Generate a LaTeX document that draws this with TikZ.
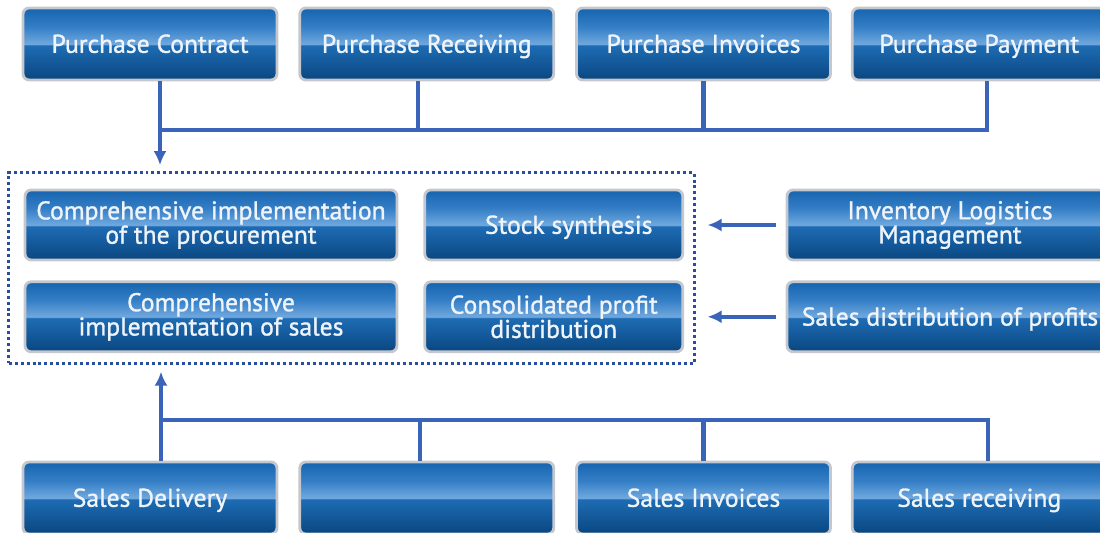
\documentclass[tikz,border=0pt]{standalone}
\usepackage{fontspec}
\setmainfont{PT Sans}
\newfontfamily\barfont[FakeBold=1.2]{PT Sans}
\newcommand\barsize{\barfont\fontsize{14.6}{13.8}\selectfont\lineskiplimit=-20pt\relax}
\usepackage{tikz}
\usetikzlibrary{arrows.meta, fit, positioning, calc}
\definecolor{btop}{RGB}{22,100,174}
\definecolor{bmid}{RGB}{52,126,198}
\definecolor{bhigh}{RGB}{112,168,222}
\definecolor{blow}{RGB}{30,108,180}
\definecolor{bbot}{RGB}{10,70,128}
\definecolor{rim}{RGB}{196,200,206}
\definecolor{linecol}{RGB}{58,100,186}
\definecolor{dotcol}{RGB}{40,78,160}
\definecolor{txtcol}{RGB}{238,244,250}
\pgfdeclareverticalshading{barshade}{100bp}{color(0bp)=(bbot); color(25bp)=(bbot); color(49bp)=(blow); color(50bp)=(bhigh); color(62bp)=(bmid); color(75bp)=(btop); color(100bp)=(btop)}
\tikzstyle{bar} = [rectangle, rounded corners=0.12cm, draw=rim, line width=1.6pt, shading=barshade, text=txtcol, align=center, inner sep=0pt, font=\barsize]
\tikzstyle{oneline} = [text height=10pt, text depth=0pt]
\tikzstyle{wide} = [bar, oneline, minimum width=5.08cm, minimum height=1.44cm]
\tikzstyle{dotbox} = [draw=dotcol, line width=1.7pt, dash pattern=on 1.7pt off 1.7pt, inner sep=0pt]
\tikzstyle{wire} = [draw=linecol, line width=2.3pt]
\tikzstyle{flow} = [wire, -{Latex[length=8pt, width=7.5pt]}]

\begin{document}
\begin{tikzpicture}[x=0.02cm, y=-0.02cm]
  \useasboundingbox (0,0) rectangle (1100,533);

  % purchase row
  \node[wide] at (150,44) (pc) {Purchase Contract};
  \node[wide, right=0.40cm of pc] (pr) {Purchase Receiving};
  \node[wide, right=0.40cm of pr] (pi) {Purchase Invoices};
  \node[wide, right=0.38cm of pi] (pp) {Purchase Payment};

  % middle block
  \node[bar, minimum width=7.44cm, minimum height=1.40cm] at (211,225) (cp) {Comprehensive implementation\\of the procurement};
  \node[bar, oneline, minimum width=5.16cm, minimum height=1.40cm, right=0.50cm of cp] (ss) {\hspace*{0.6cm}Stock synthesis};
  \node[bar, minimum width=7.44cm, minimum height=1.40cm, below=0.38cm of cp] (cs) {Comprehensive\\implementation of sales};
  \node[bar, minimum width=5.16cm, minimum height=1.40cm, below=0.38cm of ss] (cd) {Consolidated profit\\distribution};
  \coordinate (bnw) at ($(cp.north west)+(-15,-16)$);
  \coordinate (bse) at ($(cd.south east)+(10,10)$);
  \node[dotbox, fit=(bnw)(bse)] (box) {};

  \node[bar, minimum width=6.52cm, minimum height=1.40cm] at (950,225) (il) {Inventory Logistics\\Management};
  \node[bar, oneline, minimum width=6.52cm, minimum height=1.40cm, below=0.38cm of il] (sdp) {Sales distribution of profits};

  % sales row
  \node[wide] at (150,498) (sd) {Sales Delivery};
  \node[wide, right=0.40cm of sd] (sb) {};
  \node[wide, right=0.40cm of sb] (si) {Sales Invoices};
  \node[wide, right=0.38cm of si] (sr) {Sales receiving};

  \coordinate (tbus) at (0,130);
  \coordinate (bbus) at (0,420);

  % top bus
  \draw[flow, shorten >=1.2mm] ([xshift=2mm]pc.south) -- ([xshift=2mm]pc.south |- box.north);
  \draw[wire] ([xshift=2mm]pc.south |- tbus) -| ([xshift=1.6mm]pp.south);
  \draw[wire] ([xshift=-1.8mm]pr.south) -- ([xshift=-1.8mm]pr.south |- tbus);
  \draw[wire] (pi.south) -- (pi.south |- tbus);

  % bottom bus
  \draw[flow, shorten >=1.4mm] ([xshift=2.2mm]sd.north) -- ([xshift=2.2mm]sd.north |- box.south);
  \draw[wire] ([xshift=2.2mm]sd.north |- bbus) -| ([xshift=1.8mm]sr.north);
  \draw[wire] ([xshift=-1.4mm]sb.north) -- ([xshift=-1.4mm]sb.north |- bbus);
  \draw[wire] (si.north) -- (si.north |- bbus);

  % side inputs
  \draw[flow, shorten <=2mm, shorten >=2.4mm] (il.west) -- (il.west -| box.east);
  \draw[flow, shorten <=2mm, shorten >=2.4mm] (sdp.west) -- (sdp.west -| box.east);
\end{tikzpicture}
\end{document}
